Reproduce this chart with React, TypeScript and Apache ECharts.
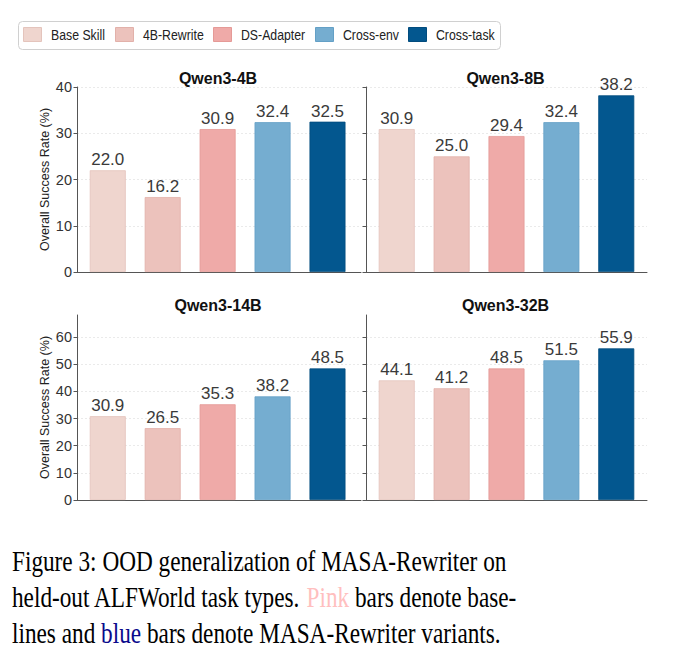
import React, { useEffect, useRef } from 'react';
import * as echarts from 'echarts';

const methods = ['Base Skill', '4B-Rewrite', 'DS-Adapter', 'Cross-env', 'Cross-task'];
const models = ['Qwen3-4B', 'Qwen3-8B', 'Qwen3-14B', 'Qwen3-32B'];
const qwen3_4b = [22.0, 16.2, 30.9, 32.4, 32.5];
const qwen3_8b = [30.9, 25.0, 29.4, 32.4, 38.2];
const qwen3_14b = [30.9, 26.5, 35.3, 38.2, 48.5];
const qwen3_32b = [44.1, 41.2, 48.5, 51.5, 55.9];
const topTicks = [0, 10, 20, 30, 40];
const bottomTicks = [0, 10, 20, 30, 40, 50, 60];
const yLabel = 'Overall Success Rate (%)';

const panelValues = [qwen3_4b, qwen3_8b, qwen3_14b, qwen3_32b];

const fills = ['#EFD5CE', '#ECC2BC', '#EFAAA8', '#75ADD0', '#03578F'];
const edges = ['#E4C4BC', '#E2B1AA', '#E59A97', '#64A0C6', '#024C7E'];

const SANS = "'Liberation Sans', Arial, Helvetica, sans-serif";
const SERIF = "'Liberation Serif', 'Times New Roman', Times, serif";

const panels = [
  { left: 77, top: 87, width: 284, height: 185, xMin: -0.56, xMax: 4.61, yMax: 40, ticks: topTicks, labels: true, titleY: 78.5 },
  { left: 366, top: 87, width: 281, height: 185, xMin: -0.56, xMax: 4.56, yMax: 40, ticks: topTicks, labels: false, titleY: 78.5 },
  { left: 77, top: 315, width: 284, height: 185, xMin: -0.56, xMax: 4.61, yMax: 68.2, ticks: bottomTicks, labels: true, titleY: 305 },
  { left: 366, top: 315, width: 281, height: 185, xMin: -0.56, xMax: 4.56, yMax: 68.2, ticks: bottomTicks, labels: false, titleY: 305 },
];

const legendItemX = [23, 115, 213, 315, 408];

export default function App() {
  const ref = useRef<HTMLDivElement>(null);

  useEffect(() => {
    if (!ref.current) return;
    const chart = echarts.init(ref.current, null, { renderer: 'svg' });

    const grid = panels.map((p) => ({ left: p.left, top: p.top, width: p.width, height: p.height, containLabel: false }));

    const xAxis = panels.map((p, i) => ({
      type: 'value',
      gridIndex: i,
      min: p.xMin,
      max: p.xMax,
      axisLine: { show: true, onZero: false, lineStyle: { color: '#555', width: 1 } },
      axisTick: { show: false },
      axisLabel: { show: false },
      splitLine: { show: false },
    }));

    const yAxis = panels.map((p, i) => ({
      type: 'value',
      gridIndex: i,
      min: 0,
      max: p.yMax,
      name: p.labels ? yLabel : '',
      nameLocation: 'middle',
      nameGap: 25,
      nameTextStyle: { fontSize: 12.5, color: '#222', fontFamily: SANS },
      axisLine: { show: true, onZero: false, lineStyle: { color: '#555', width: 1 } },
      axisTick: { show: true, length: 3.5, lineStyle: { color: '#555', width: 1 }, customValues: p.ticks },
      axisLabel: { show: p.labels, fontSize: 14.5, color: '#333', margin: 5, fontFamily: SANS, customValues: p.ticks },
      splitLine: { show: true, lineStyle: { color: '#e4e4e4', width: 0.8, type: [2, 2] } },
    }));

    const series: any[] = [];
    panels.forEach((p, pi) => {
      methods.forEach((m, mi) => {
        series.push({
          type: 'bar',
          name: m,
          xAxisIndex: pi,
          yAxisIndex: pi,
          barWidth: 36,
          barGap: '-100%',
          data: [[mi, panelValues[pi][mi]]],
          itemStyle: { color: fills[mi], borderColor: edges[mi], borderWidth: 0.8 },
          label: {
            show: true,
            position: 'top',
            distance: 2,
            fontSize: 17,
            color: '#3a3a3a',
            fontFamily: SANS,
            formatter: (params: any) => Number(params.value[1]).toFixed(1),
          },
        });
      });
    });

    const titles = panels.map((p, i) => ({
      type: 'text',
      x: p.left + p.width / 2 - 1,
      y: p.titleY,
      style: {
        text: models[i],
        fontSize: 16,
        fontWeight: 'bold',
        fontFamily: SANS,
        fill: '#111',
        align: 'center',
        verticalAlign: 'middle',
      },
    }));

    const legendGraphics: any[] = [
      {
        type: 'rect',
        shape: { x: 18.5, y: 21.5, width: 482, height: 28, r: 4 },
        style: { fill: '#fff', stroke: '#d0d0d0', lineWidth: 1 },
      },
    ];
    methods.forEach((m, i) => {
      legendGraphics.push({
        type: 'rect',
        shape: { x: legendItemX[i] + 0.5, y: 27.5, width: 18, height: 14 },
        style: { fill: fills[i], stroke: edges[i], lineWidth: 1 },
      });
      legendGraphics.push({
        type: 'text',
        x: legendItemX[i] + 28,
        y: 35,
        scaleX: 0.82,
        style: {
          text: m,
          fontSize: 15,
          fontFamily: SANS,
          fill: '#222',
          align: 'left',
          verticalAlign: 'middle',
        },
      });
    });

    const capStyle = { fontSize: 30, fontFamily: SERIF, fill: '#000' };
    const caption = [
      { y: 561, text: '{n|Figure 3: OOD generalization of MASA-Rewriter on}' },
      { y: 597, text: '{n|held-out ALFWorld task types. }{p|Pink}{n| bars denote base-}' },
      { y: 632.5, text: '{n|lines and }{b|blue}{n| bars denote MASA-Rewriter variants.}' },
    ].map((l) => ({
      type: 'text',
      x: 12,
      y: l.y,
      scaleX: 0.775,
      style: {
        text: l.text,
        ...capStyle,
        align: 'left',
        verticalAlign: 'middle',
        rich: {
          n: { ...capStyle },
          p: { ...capStyle, fill: '#FFBFBF' },
          b: { ...capStyle, fill: '#0A0A8C' },
        },
      },
    }));

    chart.setOption({
      animation: false,
      backgroundColor: '#fff',
      grid,
      xAxis,
      yAxis,
      series,
      graphic: [...legendGraphics, ...titles, ...caption],
    });

    return () => chart.dispose();
  }, []);

  return (
    <div
      ref={ref}
      style={{ position: 'absolute', left: 0, top: 0, width: 691, height: 666, background: '#fff' }}
    />
  );
}
